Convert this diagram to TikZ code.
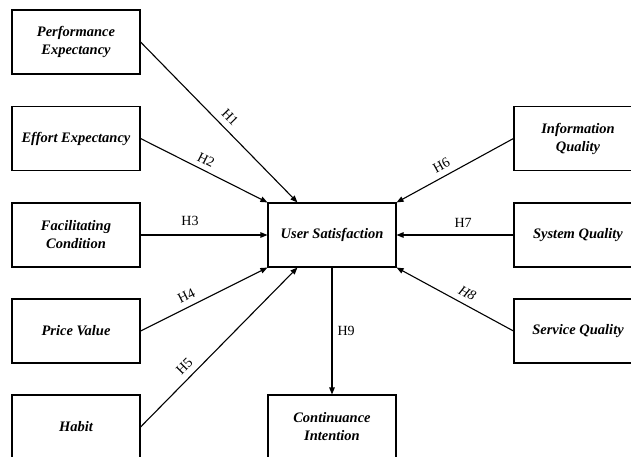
\documentclass[tikz,border=0pt]{standalone}
\usepackage{fontspec}
\setmainfont{Liberation Serif}
\usetikzlibrary{arrows.meta}
\begin{document}
\begin{tikzpicture}[x=1pt,y=-1pt,
  box/.style={draw, line width=1.1pt, minimum width=128pt, minimum height=64pt, align=center, inner sep=2pt,
    font=\fontsize{14.5}{18}\selectfont\bfseries\itshape},
  conn/.style={line width=1.1pt, -{Triangle[length=7pt,width=5.5pt]}},
  nconn/.style={line width=1.1pt, {Triangle[length=7pt,width=5.5pt]}-},
  lab/.style={font=\fontsize{14}{16}\selectfont, inner sep=1pt}]
\useasboundingbox (0,0) rectangle (631,457);
\clip (0,0) rectangle (631,457);
\node[box] (PE) at (76,42) {Performance\\Expectancy};
\node[box] (EE) at (76,138.5) {Effort Expectancy};
\node[box] (FC) at (76,235) {Facilitating\\Condition};
\node[box] (PV) at (76,331) {Price Value};
\node[box] (HA) at (76,427) {Habit};
\node[box] (US) at (332,235) {User Satisfaction};
\node[box] (CI) at (332,427) {Continuance\\Intention};
\node[box] (IQ) at (578,138.5) {Information\\Quality};
\node[box] (SQ) at (578,235) {System Quality};
\node[box] (SV) at (578,331) {Service Quality};
\coordinate (USa) at ([xshift=30pt]US.north west);
\coordinate (USb) at ([xshift=30pt]US.south west);
\draw[conn] (PE.east) -- node[lab,sloped,above=5pt,pos=0.52]{H1} (USa);
\draw[conn] (EE.east) -- node[lab,sloped,above=4pt,pos=0.48]{H2} (US.north west);
\draw[conn] (FC.east) -- node[lab,above=8pt,pos=0.39]{H3} (US.west);
\draw[conn] (PV.east) -- node[lab,sloped,above=5pt,pos=0.40]{H4} (US.south west);
\draw[conn] (HA.east) -- node[lab,sloped,above=5pt,pos=0.33]{H5} (USb);
\draw[nconn] (US.north east) -- node[lab,sloped,above=5pt,pos=0.43]{H6} (IQ.west);
\draw[nconn] (US.east) -- node[lab,above=6pt,pos=0.57]{H7} (SQ.west);
\draw[nconn] (US.south east) -- node[lab,sloped,above=5pt,pos=0.56]{\itshape H8} (SV.west);
\draw[conn] (US.south) -- node[lab,right=4pt,pos=0.5]{H9} (CI.north);
\end{tikzpicture}
\end{document}
